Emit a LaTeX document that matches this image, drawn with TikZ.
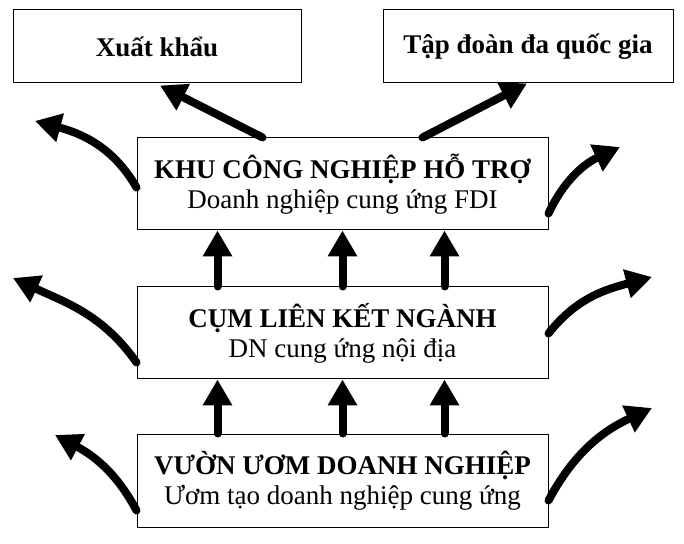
\documentclass[tikz,border=0pt]{standalone}
\usepackage{fontspec}
\setmainfont{Liberation Serif}
\usetikzlibrary{arrows.meta,calc}
\begin{document}
\begin{tikzpicture}[x=1pt,y=1pt,
  box/.style={draw, line width=1pt, inner sep=0pt, align=center,
    font=\fontsize{27}{30}\selectfont},
  topbox/.style={box, minimum height=73pt},
  midbox/.style={box, minimum width=411pt, minimum height=92pt},
  fat/.style={line width=8pt, line cap=round, -{Triangle[width=28pt,length=26pt]}},
]
\useasboundingbox (0,0) rectangle (684,543);
% top boxes
\node[topbox, minimum width=288pt] (xk) at (157,496.5) {\textbf{Xuất khẩu}};
\node[topbox, minimum width=290pt] (tap) at (528,496.5) {\textbf{Tập đoàn đa quốc gia}};
% middle boxes
\node[midbox] (khu) at (342.5,359) {\textbf{KHU CÔNG NGHIỆP HỖ TRỢ}\\Doanh nghiệp cung ứng FDI};
\node[midbox] (cum) at (342.5,210) {\textbf{CỤM LIÊN KẾT NGÀNH}\\DN cung ứng nội địa};
\node[midbox, minimum height=93pt] (vuon) at (342.5,62.5) {\textbf{VƯỜN ƯƠM DOANH NGHIỆP}\\Ươm tạo doanh nghiệp cung ứng};
% diagonal arrows to top boxes
\draw[fat] ($(khu.north west)+(126,0)$) -- ($(xk.south)+(3,-2)$);
\draw[fat] ($(khu.north west)+(286,0)$) -- ($(tap.south)+(-1,0)$);
% vertical arrows
\foreach \dx in {81,206,308}{
  \draw[fat] ($(cum.north west)+(\dx,0)$) -- ($(khu.south west)+(\dx,0)$);
  \draw[fat] ($(vuon.north west)+(\dx,0)$) -- ($(cum.south west)+(\dx,0)$);
}
% free ends of curved arrows
\coordinate (l1) at (35,422);
\coordinate (l2) at (13,265);
\coordinate (l3) at (55,108);
\coordinate (r1) at (620,396);
\coordinate (r2) at (652,266);
\coordinate (r3) at (652,135);
% curved arrows
\draw[fat] ($(khu.south west)+(0,43)$) to[out=120,in=-15] (l1);
\draw[fat] ($(cum.south west)+(0,17)$) to[out=125,in=-25] (l2);
\draw[fat] ($(vuon.south west)+(0,17)$) to[out=118,in=-28] (l3);
\draw[fat] ($(khu.south east)+(0,17)$) to[out=65,in=-155] (r1);
\draw[fat] ($(cum.south east)+(0,46)$) to[out=52,in=-165] (r2);
\draw[fat] ($(vuon.south east)+(0,27)$) to[out=62,in=-155] (r3);
\end{tikzpicture}
\end{document}
